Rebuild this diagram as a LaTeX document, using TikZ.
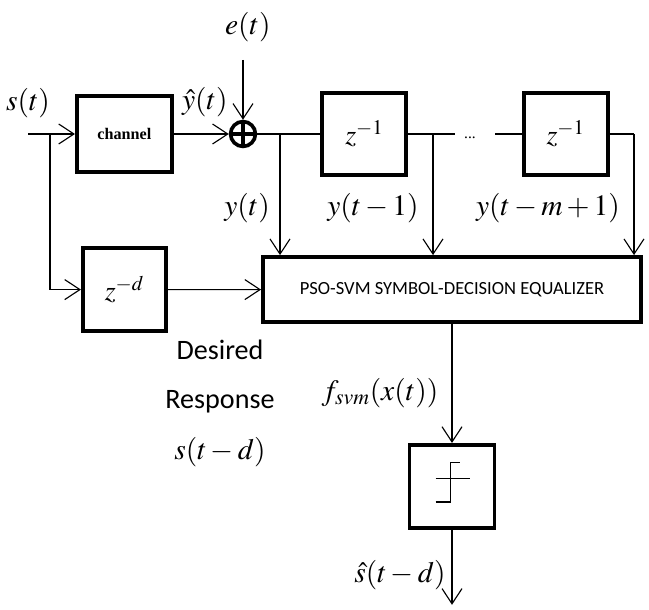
\documentclass[tikz,border=0pt]{standalone}
\usepackage{mathptmx}
\usepackage{fontspec}
\setmainfont{Liberation Serif}
\newfontfamily\calibri{Carlito}
\usetikzlibrary{arrows.meta}

\tikzstyle{block} = [draw, rectangle, line width=2.8pt, minimum width=2.1cm, minimum height=2.05cm, inner sep=0pt, font=\fontsize{20}{24}\selectfont]
\tikzstyle{sum} = [draw, circle, line width=2.6pt, minimum size=0.62cm, inner sep=0pt]
\tikzstyle{plus} = [path picture={\draw[line width=2.2pt] (path picture bounding box.north) -- (path picture bounding box.south) (path picture bounding box.west) -- (path picture bounding box.east);}]
\tikzstyle{inout} = [rectangle, inner sep=0pt, font=\fontsize{21}{25}\selectfont]
\tikzstyle{caption} = [rectangle, inner sep=0pt, font=\calibri\fontsize{20}{24}\selectfont]

\begin{document}
\begin{tikzpicture}[auto, node distance=1cm, >={Straight Barb[length=3.8mm,width=5mm]}, line width=0.8pt]
  \useasboundingbox (0,0) rectangle (16.225,-15.25);
  % top row
  \coordinate (input) at (0.7,-3.35);
  \node [inout, above of=input, node distance=0.78cm] (s) {$s(t)$};
  \node [coordinate, right of=input, node distance=0.55cm] (e) {};
  \node [block, right of=e, node distance=1.86cm, minimum width=2.375cm, minimum height=1.9cm, font=\fontsize{11.5}{14}\selectfont\bfseries] (channel) {channel};
  \node [sum, plus, right of=channel, node distance=2.965cm] (sum) {};
  \node [coordinate, above of=sum, node distance=1.85cm] (noise) {};
  \node [inout, above of=sum, node distance=2.68cm, xshift=0.12cm] (et) {$e(t)$};
  \node [coordinate, right of=sum, node distance=0.925cm] (y0) {};
  \node [block, right of=y0, node distance=2.11cm] (z1) {$z^{-1}$};
  \node [coordinate, right of=z1, node distance=1.715cm] (y1) {};
  \node [coordinate, right of=y1, node distance=0.55cm] (g1) {};
  \node [inout, right of=g1, node distance=0.375cm, yshift=-0.1cm, font=\fontsize{11}{13}\selectfont] (dots) {...};
  \node [coordinate, right of=g1, node distance=1.0cm] (g2) {};
  \node [block, right of=g2, node distance=1.765cm] (z2) {$z^{-1}$};
  \node [coordinate, right of=z2, node distance=1.71cm] (ym) {};
  % equalizer
  \node [block, minimum width=9.45cm, minimum height=1.625cm, font=\calibri\fontsize{13.2}{16}\selectfont] (pso) at (11.3,-7.24) {PSO-SVM SYMBOL-DECISION EQUALIZER};
  \node [block, below of=channel, node distance=3.89cm, minimum width=2.075cm, minimum height=2.075cm] (zd) {$z^{-d}$};
  \node [block, below of=pso, node distance=4.92cm, minimum width=2.125cm, minimum height=2.075cm] (dec) {};
  \node [coordinate, below of=dec, node distance=2.96cm] (output) {};
  % labels
  \node [inout] (yhat) at (5.12,-2.55) {$\hat{y}(t)$};
  \node [inout] (lab0) at (6.175,-5.2) {$y(t)$};
  \node [inout] (lab1) at (9.325,-5.2) {$y(t-1)$};
  \node [inout] (labm) at (13.7,-5.2) {$y(t-m+1)$};
  \node [caption] (desired) at (5.5,-8.75) {Desired};
  \node [caption] (response) at (5.5,-10.05) {Response};
  \node [inout] (sd) at (5.5,-11.3) {$s(t-d)$};
  \node [inout] (fsvm) at (9.5,-9.825) {$f_{svm}(x(t))$};
  \node [inout] (shat) at (10.0,-14.375) {$\hat{s}(t-d)$};

  \draw [->] (input) -- (channel);
  \draw [->] (channel) -- (sum);
  \draw [->] (noise) -- (sum);
  \draw (sum) -- (y0) -- (z1);
  \draw (z1) -- (y1) -- (g1);
  \draw (g2) -- (z2);
  \draw (z2) -- (ym);
  \draw [->] (y0) -- (y0 |- pso.north);
  \draw [->] (y1) -- (y1 |- pso.north);
  \draw [->] (ym) -- (ym |- pso.north);
  \draw [->] (e) |- (zd);
  \draw [->] (zd) -- (pso);
  \draw [->] (pso) -- (dec);
  \draw [->] (dec) -- (output);
  % hard limiter
  \draw ([shift={(-0.41,-0.39)}]dec.center) -- ++(0.37,0) -- ++(0,0.98) -- ++(0.23,0);
  \draw ([shift={(-0.41,0.19)}]dec.center) -- ++(0.85,0);
\end{tikzpicture}
\end{document}
